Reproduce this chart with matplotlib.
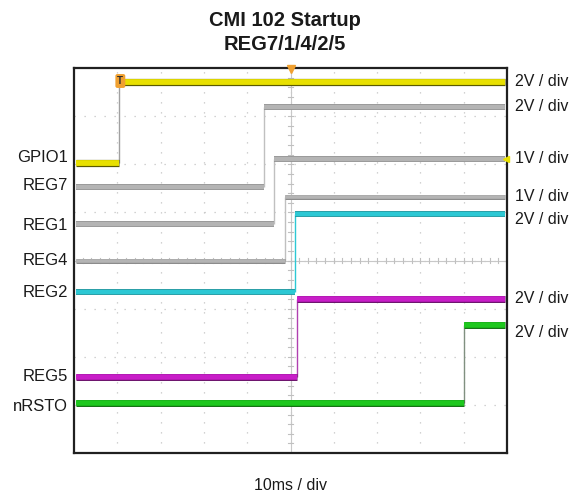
import matplotlib
matplotlib.use("Agg")
import matplotlib.pyplot as plt
import matplotlib.patheffects as pe
import numpy as np

plt.rcParams['font.family'] = ['Liberation Sans', 'DejaVu Sans']

# ---- data (time in ms, levels in screen divisions from bottom) ----
channels = ["GPIO1", "REG7", "REG1", "REG4", "REG2", "REG5", "nRSTO"]
step_time = [10.4, 43.9, 46.2, 48.7, 51.0, 51.5, 90.1]
low_level = [6.03, 5.53, 4.75, 4.00, 3.34, 1.58, 1.04]
high_level = [7.71, 7.19, 6.11, 5.31, 4.97, 3.21, 2.67]
colors = ["#e8e000", "#b4b4b4", "#b4b4b4", "#b4b4b4", "#2cc8d4", "#c81ec8", "#1ec81e"]
edge_colors = ["#5a5a00", "#8c8c8c", "#8c8c8c", "#8c8c8c", "#1a8c94", "#6a106a", "#107010"]
rise_colors = ["#a0a0a0", "#c0c0c0", "#c0c0c0", "#c0c0c0", "#2cc8d4", "#b040b0", "#809080"]
widths = [4.2, 3.2, 3.2, 2.6, 3.2, 4.0, 4.0]

label_y = [6.13, 5.55, 4.73, 4.00, 3.34, 1.58, 0.97]
scale_labels = ["2V / div", "2V / div", "1V / div", "1V / div", "2V / div", "2V / div", "2V / div"]
scale_y = [7.72, 7.20, 6.11, 5.34, 4.85, 3.22, 2.50]

title_lines = ["CMI 102 Startup", "REG7/1/4/2/5"]
x_label = "10ms / div"
t_start, t_end = 0.0, 100.0
n_xdiv, n_ydiv = 10, 8

fig = plt.figure(figsize=(5.75, 4.93), dpi=100)
ax = fig.add_axes([74/575, 1-453/493, 433/575, 385/493])
ax.set_xlim(t_start, t_end)
ax.set_ylim(0, n_ydiv)
ax.set_xticks([]); ax.set_yticks([])
for s in ax.spines.values():
    s.set_linewidth(1.6)
    s.set_color("#202020")

# graticule
xdiv = (t_end - t_start) / n_xdiv
for i in range(1, n_xdiv):
    ax.axvline(t_start + i * xdiv, color="#c4c4c4", lw=0.9, ls=(0, (1, 7)), zorder=0)
for j in range(1, n_ydiv):
    ax.axhline(j, color="#c4c4c4", lw=0.9, ls=(0, (1, 7)), zorder=0)
xc = (t_start + t_end) / 2
yc = n_ydiv / 2
ax.axvline(xc, color="#c8c8c8", lw=0.8, zorder=0)
ax.axhline(yc, color="#c8c8c8", lw=0.8, zorder=0)
for k in range(n_ydiv * 5 + 1):
    ax.plot([xc - 0.5, xc + 0.5], [k / 5, k / 5], color="#c0c0c0", lw=0.8, zorder=0)
for k in range(n_xdiv * 5 + 1):
    xx = t_start + k * xdiv / 5
    ax.plot([xx, xx], [yc - 0.05, yc + 0.05], color="#c0c0c0", lw=0.8, zorder=0)

# traces
for name, st, lo, hi, c, ec, rc, w in zip(channels, step_time, low_level, high_level,
                                           colors, edge_colors, rise_colors, widths):
    eff = [pe.Stroke(linewidth=w + 1.0, foreground=ec), pe.Normal()]
    ax.hlines(lo, t_start + 0.4, st, color=c, lw=w, path_effects=eff, zorder=3)
    ax.hlines(hi, st, t_end - 0.4, color=c, lw=w, path_effects=eff, zorder=3)
    ax.vlines(st, lo, hi, color=rc, lw=1.0, zorder=2)

# trigger markers
ax.plot([xc], [n_ydiv - 0.02], marker="v", color="#f0a030", ms=6, clip_on=False, zorder=5)
ax.text(step_time[0] + 0.3, high_level[0] + 0.02, "T", ha="center", va="center",
        fontsize=7, fontweight="bold", color="#303030", zorder=6,
        bbox=dict(boxstyle="round,pad=0.2", fc="#f0a030", ec="none"))
ax.plot([t_end - 0.3], [high_level[2]], marker="<", color="#e8e000", ms=5,
        clip_on=False, zorder=5)

# labels
for name, y in zip(channels, label_y):
    ax.text(-1.4, y, name, ha="right", va="center", fontsize=12, color="#1a1a1a",
            transform=ax.transData, clip_on=False)
for lab, y in zip(scale_labels, scale_y):
    ax.text(101.8, y, lab, ha="left", va="center", fontsize=11.5, color="#1a1a1a",
            clip_on=False)

fig.text(285/575, 1-20/493, title_lines[0], ha="center", va="center",
         fontsize=14.5, fontweight="bold", color="#1a1a1a")
fig.text(285/575, 1-45/493, title_lines[1], ha="center", va="center",
         fontsize=14.5, fontweight="bold", color="#1a1a1a")
fig.text(290/575, 1-485/493, x_label, ha="center", va="center",
         fontsize=11.5, color="#1a1a1a")

fig.savefig("out.png", dpi=100, facecolor="white")
